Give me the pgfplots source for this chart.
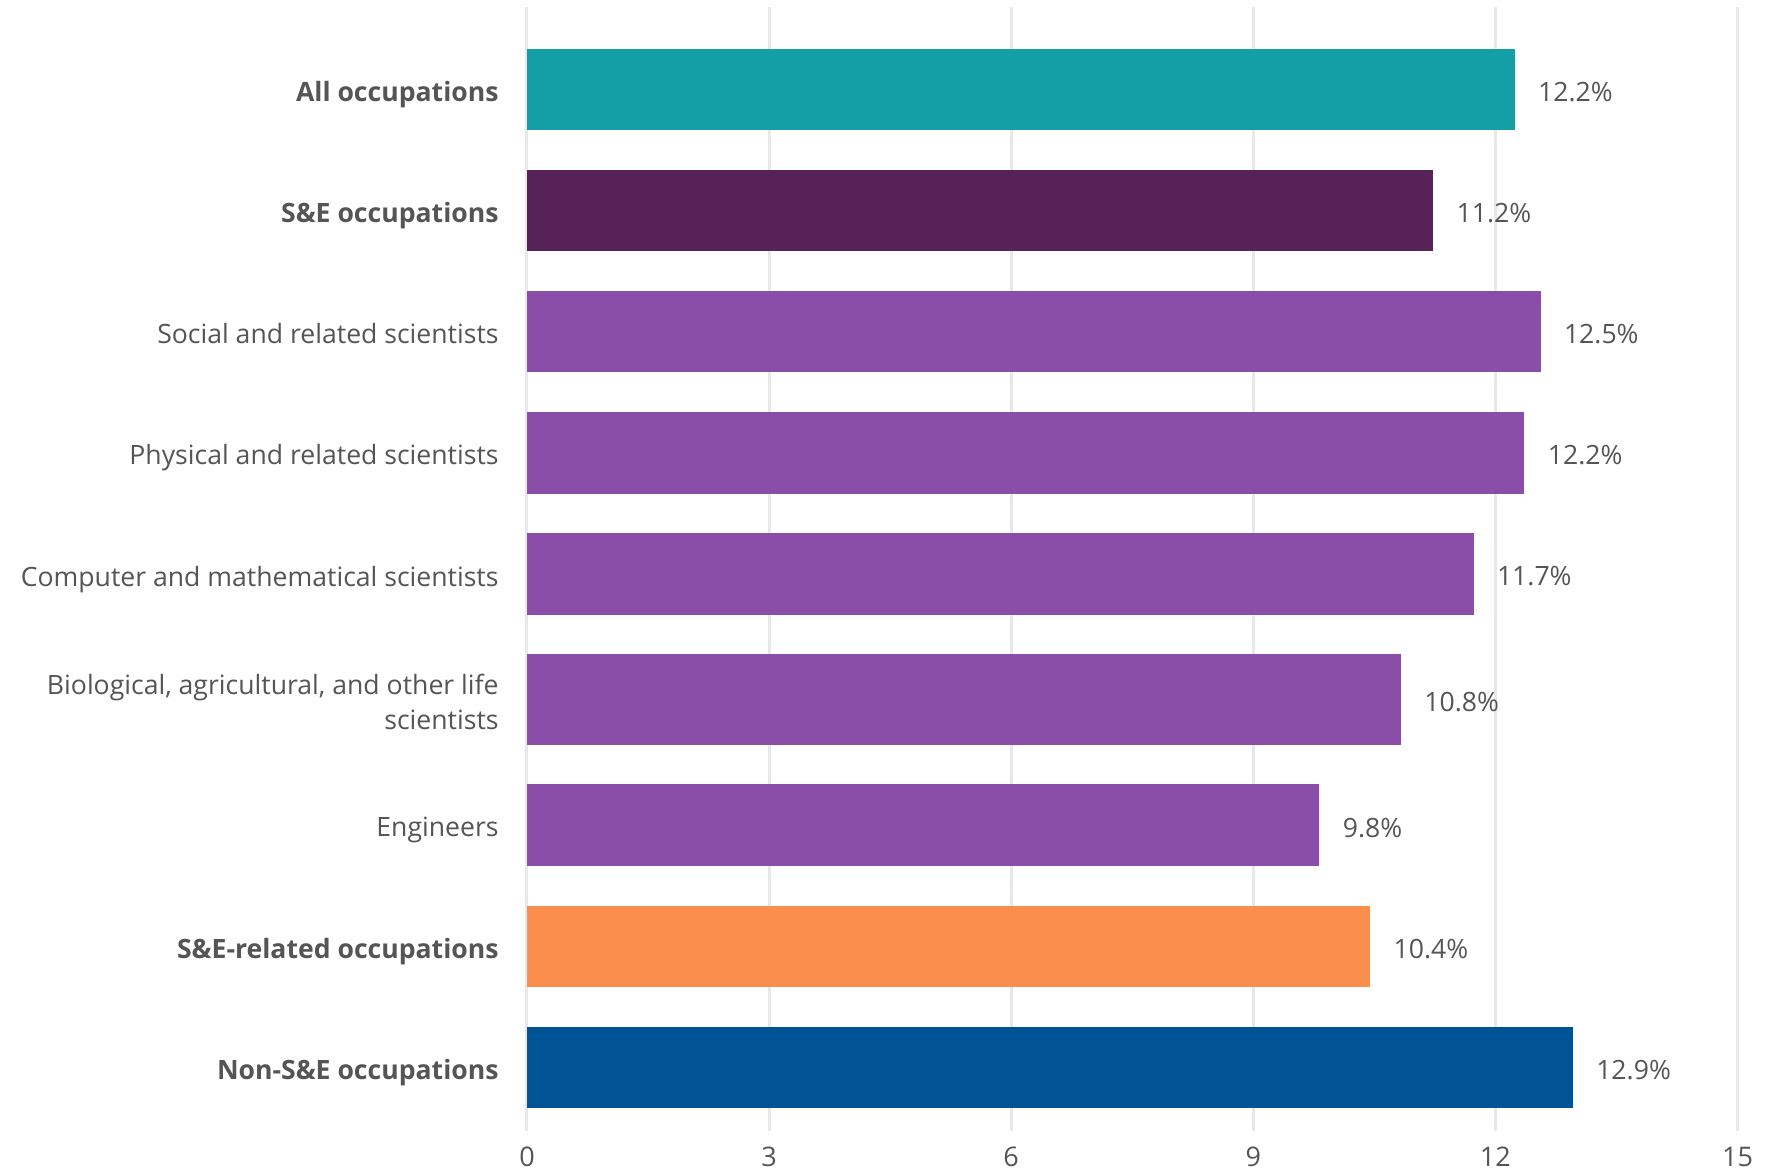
\documentclass[border=0pt]{standalone}
\usepackage{fontspec}
\setmainfont{Open Sans}
\usepackage{pgfplots}
\pgfplotsset{compat=1.18}
\usetikzlibrary{calc}
\definecolor{txt}{HTML}{555555}
\definecolor{gridc}{HTML}{E8E8E8}
\definecolor{cteal}{HTML}{149EA5}
\definecolor{cdark}{HTML}{572257}
\definecolor{cpurp}{HTML}{8A4EA8}
\definecolor{corange}{HTML}{FB8D4D}
\definecolor{cblue}{HTML}{005496}
\begin{document}
\begin{tikzpicture}
\begin{axis}[name=ax, scale only axis, width=605.25pt, height=562pt,
  xmin=0, xmax=15, ymin=7, ymax=1131, y dir=reverse,
  xtick={0,3,6,9,12,15},
  ytick={89.4,210.6,331.7,452.8,573.9,699.6,825.2,946.4,1067.5},
  yticklabels={\textbf{All occupations},\textbf{S\&E occupations},Social and related scientists,Physical and related scientists,Computer and mathematical scientists,{Biological, agricultural, and other life\\scientists},Engineers,\textbf{S\&E-related occupations},\textbf{Non-S\&E occupations}},
  axis lines*=left, axis line style={draw=none}, major tick length=0pt, tick style={draw=none},
  xmajorgrids, major grid style={draw=gridc, line width=1.5pt},
  yticklabel style={align=right, font=\fontsize{13.3}{17.5}\selectfont, text=txt, inner sep=0pt, text depth=0pt, yshift=-1pt},
  xticklabel style={font=\fontsize{13.5}{16}\selectfont, text=txt, inner sep=0pt},
  yticklabel shift=14pt, xticklabel shift=8pt,
  /pgf/number format/assume math mode=true,
  every node near coord/.append style={anchor=west, inner sep=0pt, xshift=11.5pt, yshift=-1.2pt, font=\fontsize{13.3}{16}\selectfont, text=txt},
  clip=false,
]
\addplot[xbar, bar shift=0pt, bar width=81.5, fill=cteal, draw=none, nodes near coords={12.2\%}] coordinates {(12.24,89.4)};
\addplot[xbar, bar shift=0pt, bar width=81.5, fill=cdark, draw=none, nodes near coords={11.2\%}] coordinates {(11.23,210.6)};
\addplot[xbar, bar shift=0pt, bar width=81.5, fill=cpurp, draw=none, nodes near coords={12.5\%}] coordinates {(12.56,331.7)};
\addplot[xbar, bar shift=0pt, bar width=81.5, fill=cpurp, draw=none, nodes near coords={12.2\%}] coordinates {(12.36,452.8)};
\addplot[xbar, bar shift=0pt, bar width=81.5, fill=cpurp, draw=none, nodes near coords={11.7\%}] coordinates {(11.73,573.9)};
\addplot[xbar, bar shift=0pt, bar width=90.6, fill=cpurp, draw=none, nodes near coords={10.8\%}] coordinates {(10.83,699.6)};
\addplot[xbar, bar shift=0pt, bar width=81.5, fill=cpurp, draw=none, nodes near coords={9.8\%}] coordinates {(9.82,825.2)};
\addplot[xbar, bar shift=0pt, bar width=81.5, fill=corange, draw=none, nodes near coords={10.4\%}] coordinates {(10.45,946.4)};
\addplot[xbar, bar shift=0pt, bar width=81.5, fill=cblue, draw=none, nodes near coords={12.9\%}] coordinates {(12.96,1067.5)};
\end{axis}
\pgfresetboundingbox
\path[use as bounding box] ($(ax.south west)+(-263.5pt,-20.5pt)$) rectangle ($(ax.north east)+(18.75pt,3.5pt)$);
\end{tikzpicture}
\end{document}
